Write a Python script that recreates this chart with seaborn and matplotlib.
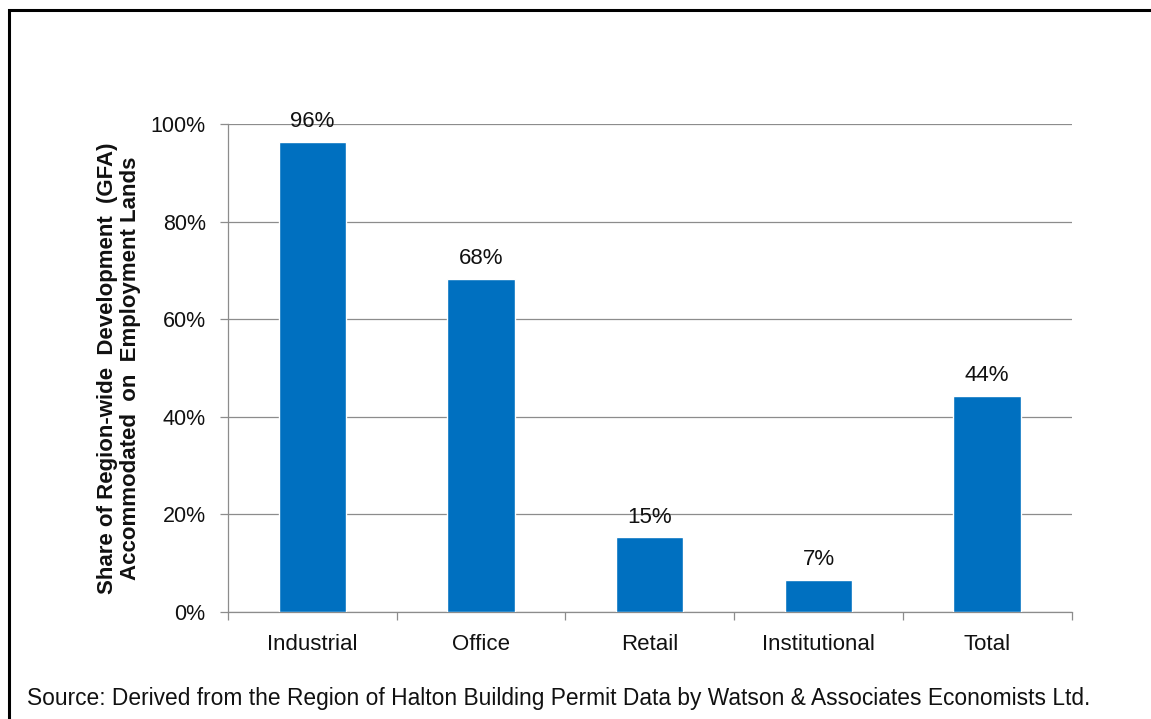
import matplotlib
matplotlib.use("Agg")
import matplotlib.pyplot as plt
import seaborn as sns
import pandas as pd
from matplotlib.patches import Rectangle
from matplotlib.ticker import FuncFormatter, MultipleLocator

categories = ["Industrial", "Office", "Retail", "Institutional", "Total"]
shares = [96.4, 68.2, 15.3, 6.6, 44.3]
y_ticks = [0, 20, 40, 60, 80, 100]

sns.set_theme(style="white")
plt.rcParams["font.family"] = ["Liberation Sans", "DejaVu Sans"]

df = pd.DataFrame({"category": categories, "share": shares})

fig = plt.figure(figsize=(11.51, 7.19), dpi=100)
ax = fig.add_axes([0.198, 0.149, 0.733, 0.6785])

grid_c = "#8c8c8c"
txt_c = "#111111"
sns.barplot(data=df, x="category", y="share", color="#0070C0", saturation=1,
            width=0.4, ax=ax, zorder=3)

ax.set_ylim(0, 100)
ax.set_xlim(-0.5, len(categories) - 0.5)
ax.set_yticks(y_ticks)
ax.yaxis.set_major_formatter(FuncFormatter(lambda v, _: f"{v:.0f}%"))
ax.yaxis.grid(True, color=grid_c, linewidth=0.9, zorder=0)
ax.set_axisbelow(True)

for side in ["top", "right"]:
    ax.spines[side].set_visible(False)
for side in ["left", "bottom"]:
    ax.spines[side].set_color(grid_c)
    ax.spines[side].set_linewidth(0.9)

# category boundaries carry the x tick marks
ax.set_xticks(range(len(categories)))
ax.set_xticklabels(categories, fontsize=16, color=txt_c)
ax.xaxis.set_minor_locator(MultipleLocator(1, offset=0.5))
ax.tick_params(axis="x", which="major", length=0, pad=16)
ax.tick_params(axis="x", which="minor", length=6, width=0.9, color=grid_c, bottom=True)
ax.tick_params(axis="y", length=6, width=0.9, color=grid_c, left=True,
               labelsize=15.5, labelcolor=txt_c, pad=10)

ax.set_xlabel("")
ax.set_ylabel("Share of Region-wide  Development  (GFA)\nAccommodated  on  Employment Lands",
              fontsize=16, fontweight="bold", color=txt_c, labelpad=7,
              linespacing=1.1)

for cont in ax.containers:
    ax.bar_label(cont, labels=[f"{v:.0f}%" for v in shares], padding=7,
                 fontsize=16, color=txt_c)

fig.text(0.0235, 0.0195, "Source: Derived from the Region of Halton Building Permit Data by "
         "Watson & Associates Economists Ltd.", fontsize=16.4, color=txt_c,
         ha="left", va="baseline")

# outer frame
fig.patches.append(Rectangle((0.0078, -0.05), 1.2, 1.036, transform=fig.transFigure,
                             fill=False, edgecolor="black", linewidth=2.2))

fig.savefig("out.png", dpi=100, facecolor="white")
